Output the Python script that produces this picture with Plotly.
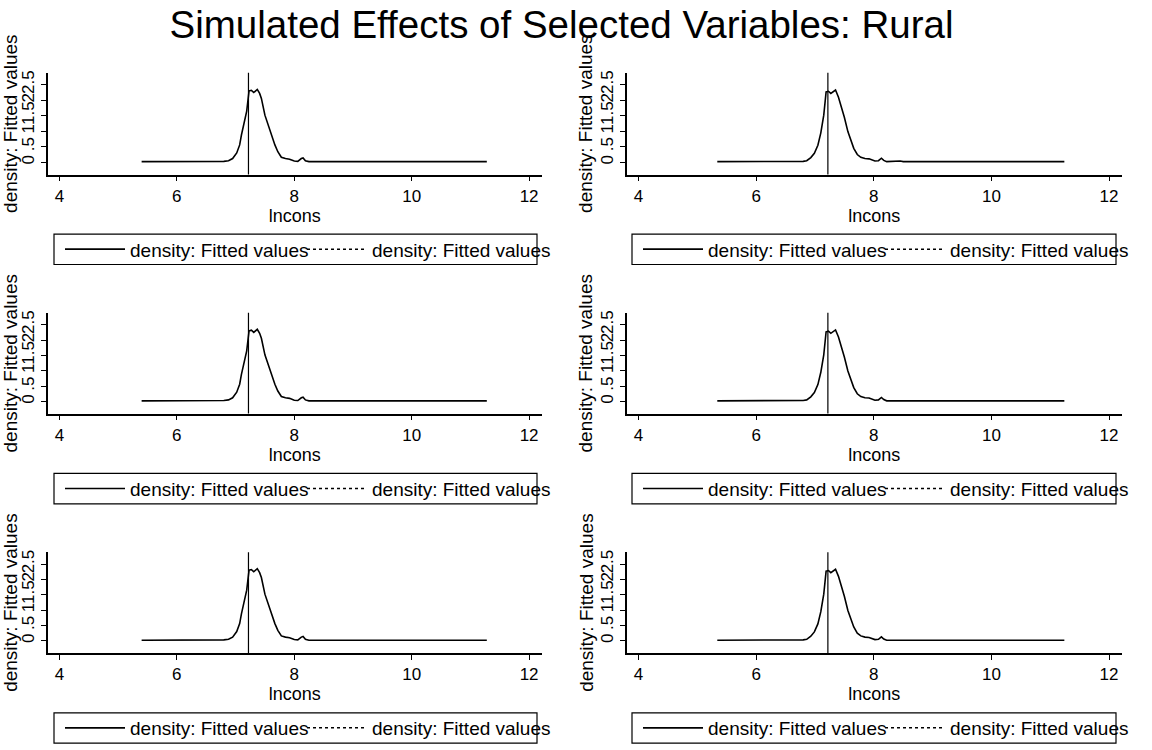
import plotly.graph_objects as go

W, H = 1152, 750

# ---------------- data ----------------
title_text = "Simulated Effects of Selected Variables: Rural"
x_title = "lncons"
y_title = "density: Fitted values"
legend_labels = ["density: Fitted values", "density: Fitted values"]

x_ticks = [4, 6, 8, 10, 12]
x_tick_labels = ["4", "6", "8", "10", "12"]
y_ticks = [0, 0.5, 1, 1.5, 2, 2.5]
y_tick_labels = ["0", ".5", "1", "1.5", "2", "2.5"]
x_range = [3.80, 12.22]
y_range = [-0.396, 2.886]

fitted_value = 7.22  # vertical line (Fitted values)

# density of lncons, left column panels
left_x = [5.40, 6.00, 6.50, 6.80, 6.88, 6.95, 7.02, 7.07, 7.10, 7.14, 7.19,
          7.23, 7.27, 7.31, 7.37, 7.41, 7.44, 7.50, 7.55, 7.59, 7.64, 7.67,
          7.72, 7.78, 7.85, 7.92, 8.00, 8.06, 8.12, 8.15, 8.19, 8.25, 8.50,
          9.00, 10.00, 11.28]
left_y = [0.02, 0.02, 0.02, 0.03, 0.05, 0.12, 0.30, 0.56, 0.88, 1.20, 1.65,
          2.30, 2.32, 2.25, 2.35, 2.22, 2.06, 1.52, 1.22, 1.04, 0.75, 0.56,
          0.34, 0.16, 0.12, 0.10, 0.04, 0.03, 0.12, 0.14, 0.05, 0.02, 0.02,
          0.02, 0.02, 0.02]

# density of lncons, right column panels
right_x = [5.34, 6.00, 6.50, 6.80, 6.86, 6.93, 6.99, 7.05, 7.10, 7.15, 7.19,
           7.23, 7.27, 7.31, 7.35, 7.40, 7.45, 7.50, 7.56, 7.61, 7.66, 7.72,
           7.78, 7.85, 7.92, 8.02, 8.08, 8.13, 8.17, 8.22, 8.45, 8.50, 9.00,
           10.00, 11.24]
right_y = [0.02, 0.02, 0.02, 0.03, 0.05, 0.15, 0.29, 0.55, 0.95, 1.52, 2.27,
           2.29, 2.22, 2.27, 2.33, 2.10, 1.80, 1.45, 0.99, 0.70, 0.45, 0.25,
           0.16, 0.12, 0.11, 0.04, 0.05, 0.13, 0.06, 0.02, 0.04, 0.02, 0.02,
           0.02, 0.02]

# ---------------- layout geometry (pixels) ----------------
cols_px = [(47.7, 542.0), (626.7, 1122.0)]
rows_px = [(71.0, 173.0), (311.7, 412.7), (551.7, 652.7)]
legend_box_x = [(54.0, 537.0), (632.0, 1116.0)]
legend_box_top = [232.7, 472.7, 712.7]
legend_box_h = 30.5
legend_entry_widths = [167, 180]

FONT = "Liberation Sans, Arial, Helvetica, sans-serif"


def fx(p):
    return p / W


def fy(p):
    return 1 - p / H


fig = go.Figure()
layout = dict(
    width=W, height=H,
    margin=dict(l=0, r=0, t=0, b=0),
    paper_bgcolor="white", plot_bgcolor="white",
    font=dict(family=FONT, color="black", size=17),
    title=dict(text=title_text, x=fx(561.5), xanchor="center", xref="paper",
               y=fy(25), yref="container", yanchor="middle",
               font=dict(size=38.5, family=FONT, color="black")),
    showlegend=True,
)
shapes = []

for r in range(3):
    for c in range(2):
        n = r * 2 + c + 1
        sfx = "" if n == 1 else str(n)
        xa, ya = "x" + sfx, "y" + sfx
        lg = "legend" + sfx
        dx = left_x if c == 0 else right_x
        dy = left_y if c == 0 else right_y

        fig.add_trace(go.Scatter(
            x=dx, y=dy, mode="lines", name=legend_labels[0],
            line=dict(color="black", width=1.6),
            legendwidth=legend_entry_widths[0],
            xaxis=xa, yaxis=ya, legend=lg, hoverinfo="skip"))
        fig.add_trace(go.Scatter(
            x=[None], y=[None], mode="lines", name=legend_labels[1],
            line=dict(color="black", width=1.5, dash="dot"),
            legendwidth=legend_entry_widths[1],
            xaxis=xa, yaxis=ya, legend=lg, hoverinfo="skip"))

        x0, x1 = cols_px[c]
        top, bot = rows_px[r]
        layout["xaxis" + sfx] = dict(
            domain=[fx(x0), fx(x1)], anchor=ya, range=x_range,
            tickmode="array", tickvals=x_ticks, ticktext=x_tick_labels,
            ticks="outside", ticklen=5, tickwidth=1.2, tickcolor="black",
            showline=True, linecolor="black", linewidth=1.5,
            showgrid=False, zeroline=False,
            tickfont=dict(size=17),
            title=dict(text=x_title, font=dict(size=18), standoff=1),
        )
        layout["yaxis" + sfx] = dict(
            domain=[fy(bot), fy(top)], anchor=xa, range=y_range,
            tickmode="array", tickvals=y_ticks, ticktext=y_tick_labels,
            tickangle=-90,
            ticks="outside", ticklen=5, tickwidth=1.2, tickcolor="black",
            showline=True, linecolor="black", linewidth=1.5,
            showgrid=False, zeroline=False,
            tickfont=dict(size=17),
            title=dict(text=y_title, font=dict(size=19), standoff=0),
        )
        # vertical fitted-value line
        shapes.append(dict(type="line", xref=xa, yref=ya + " domain",
                           x0=fitted_value, x1=fitted_value, y0=0, y1=1,
                           line=dict(color="black", width=1.2)))
        # legend box
        bx0, bx1 = legend_box_x[c]
        btop = legend_box_top[r]
        shapes.append(dict(type="rect", xref="paper", yref="paper",
                           x0=fx(bx0), x1=fx(bx1),
                           y0=fy(btop + legend_box_h), y1=fy(btop),
                           line=dict(color="black", width=1.2),
                           fillcolor="rgba(0,0,0,0)"))
        layout[lg] = dict(
            orientation="h", x=fx(bx0 + 6), xanchor="left",
            y=fy(btop + legend_box_h / 2), yanchor="middle",
            bgcolor="rgba(0,0,0,0)", borderwidth=0,
            font=dict(size=19, family=FONT, color="black"),
            itemwidth=60, entrywidthmode="pixels",
            traceorder="normal",
        )

layout["shapes"] = shapes
fig.update_layout(**layout)
fig.write_html("out.html")
